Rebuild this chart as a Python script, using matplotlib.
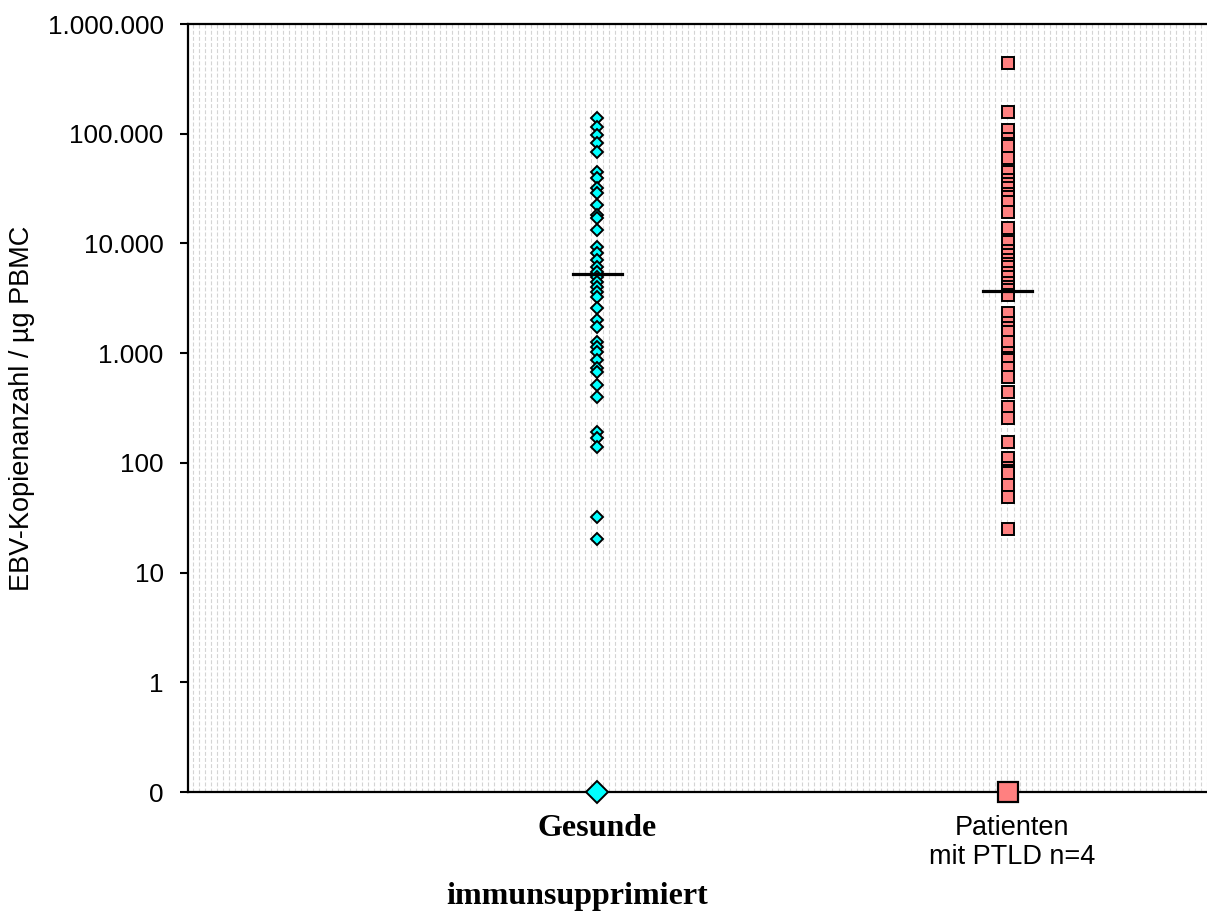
import numpy as np
import matplotlib
matplotlib.use("Agg")
import matplotlib.pyplot as plt

plt.rcParams['font.family'] = ['Liberation Sans', 'DejaVu Sans']

# values (copies / ug PBMC); 0 is drawn on the "0" line
gesunde = [140000, 116000, 97000, 82000, 68500, 45000, 39400, 32000, 28800,
           22400, 18100, 17000, 13200, 9300, 8160, 7050, 6120, 5510, 4960,
           4470, 4020, 3600, 3260, 2570, 2000, 1740, 1270, 1140, 1030, 863,
           730, 675, 510, 399, 191, 168, 140, 32, 20.4]
patienten = [438000, 158000, 108000, 89300, 80000, 77200, 60000, 45000, 37800,
             35000, 31900, 28500, 26600, 24000, 19400, 13800, 10400, 8570,
             7800, 7050, 6500, 6120, 5400, 4960, 4400, 4020, 3800, 3380, 2320,
             1880, 1700, 1560, 1270, 1000, 900, 863, 730, 608, 444, 324, 255,
             155, 110, 89, 84, 81, 62.5, 49, 25.2]
gesunde_mittel = 5300
patienten_mittel = 3650
null_wert = 0.1   # position used for the value 0

yticks = [0.1, 1, 10, 100, 1000, 10000, 100000, 1000000]
ytick_labels = ["0"] + [f"{int(v):,}".replace(",", ".") for v in yticks[1:]]

fig = plt.figure(figsize=(12.07, 9.13), dpi=100)
ax = fig.add_axes([188 / 1207, 121 / 913, 1025 / 1207, 768 / 913])

# fine dashed vertical background texture
xs = np.arange(4.7 / 1019, 1, 6 / 1019)
ax.vlines(xs, 0, 1, transform=ax.transAxes, colors='#d4d4d4',
          linewidth=0.8, linestyles=(0, (3.5, 2.0)), zorder=0)

ax.plot(np.ones(len(gesunde)), gesunde, ls='none', marker='D', ms=6.4,
        mfc='#00ffff', mec='black', mew=1.4, zorder=3)
ax.plot(np.full(len(patienten), 2), patienten, ls='none', marker='s', ms=9.2,
        mfc='#ff8080', mec='black', mew=1.4, zorder=3)

# zero values on the baseline
ax.plot([1], [null_wert], ls='none', marker='D', ms=11, mfc='#00ffff',
        mec='black', mew=1.4, zorder=5, clip_on=False)
ax.plot([2], [null_wert], ls='none', marker='s', ms=15, mfc='#ff8080',
        mec='black', mew=1.6, zorder=5, clip_on=False)

# mean lines
ax.plot([0.94, 1.06], [gesunde_mittel] * 2, color='black', lw=2.3, zorder=4)
ax.plot([1.94, 2.06], [patienten_mittel] * 2, color='black', lw=2.3, zorder=4)

ax.set_yscale('log')
ax.set_ylim(0.1, 1e6)
ax.set_xlim(0.0024, 2.5)
ax.set_yticks(yticks)
ax.set_yticklabels(ytick_labels, fontsize=18.8)
ax.minorticks_off()
ax.tick_params(axis='y', direction='out', length=6, width=1.5, pad=11.5)
ax.set_xticks([])

for s in ['left', 'top', 'bottom']:
    ax.spines[s].set_linewidth(1.6)
ax.spines['right'].set_visible(False)

ax.set_ylabel("EBV-Kopienanzahl / µg PBMC", fontsize=19.5, va='center')
ax.yaxis.set_label_coords(-0.162, 0.5)

trans = ax.get_xaxis_transform()
ax.text(1, -0.047, "Gesunde", transform=trans, ha='center', va='center',
        fontsize=23, fontweight='bold', family='Liberation Serif')
ax.text(2.01, -0.0658, "Patienten\nmit PTLD n=4", transform=trans,
        ha='center', va='center', fontsize=19.5, linespacing=1.17)
fig.text(577 / 1207, 9 / 913, "immunsupprimiert", ha='center', va='baseline',
         fontsize=23, fontweight='bold', family='Liberation Serif')

fig.savefig("out.png", dpi=100)
